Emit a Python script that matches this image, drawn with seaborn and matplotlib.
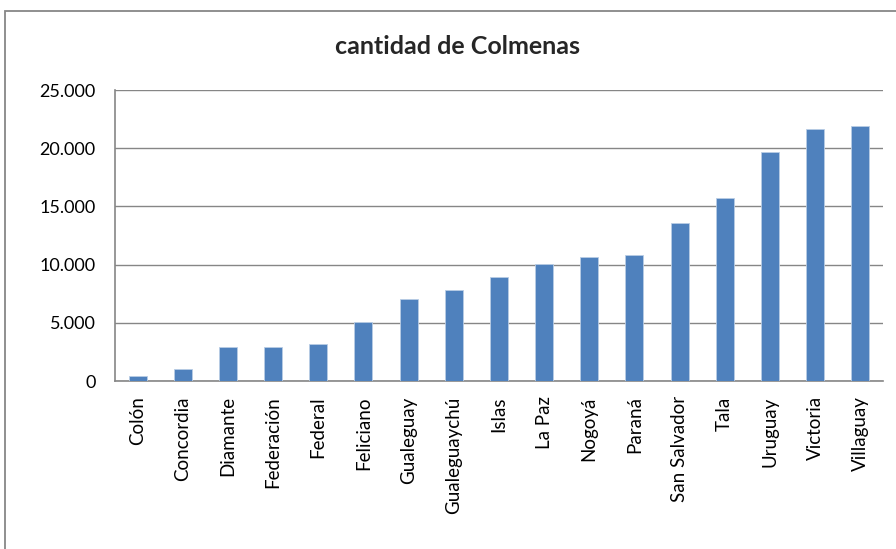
import matplotlib
matplotlib.use("Agg")
import matplotlib.pyplot as plt
import matplotlib.ticker as mticker
from matplotlib.patches import Rectangle
import seaborn as sns
import pandas as pd

departamentos = ["Colón", "Concordia", "Diamante", "Federación", "Federal", "Feliciano",
                 "Gualeguay", "Gualeguaychú", "Islas", "La Paz", "Nogoyá", "Paraná",
                 "San Salvador", "Tala", "Uruguay", "Victoria", "Villaguay"]
colmenas = [430, 1060, 2890, 2900, 3140, 5060, 7060, 7800, 8950, 10080, 10680, 10830,
            13540, 15740, 19660, 21630, 21940]
y_ticks = [0, 5000, 10000, 15000, 20000, 25000]

df = pd.DataFrame({"departamento": departamentos, "colmenas": colmenas})

sns.set_style("white")
plt.rcParams["font.family"] = ["Lato", "DejaVu Sans"]

fig = plt.figure(figsize=(8.96, 5.49), dpi=100)
ax = fig.add_axes([0.1283, 0.306, 0.857, 0.530])

sns.barplot(data=df, x="departamento", y="colmenas", color="#4F81BD", saturation=1,
            width=0.4, edgecolor="#B9CDE5", linewidth=0.6, ax=ax, zorder=3)

ax.set_ylim(0, 25000)
ax.set_xlim(-0.5, len(departamentos) - 0.5)
ax.set_yticks(y_ticks)
ax.yaxis.set_major_formatter(mticker.FuncFormatter(lambda v, p: f"{int(v):,}".replace(",", ".")))
ax.grid(axis="y", color="#868686", linewidth=1.0, zorder=0)
ax.set_axisbelow(True)

for side in ["top", "right"]:
    ax.spines[side].set_visible(False)
for side in ["left", "bottom"]:
    ax.spines[side].set_color("#868686")
    ax.spines[side].set_linewidth(1.2)

ax.set_xlabel("")
ax.set_ylabel("")
ax.set_xticks(range(len(departamentos)))
ax.set_xticklabels(departamentos, rotation=90, fontsize=13.5, color="black")
ax.tick_params(axis="x", length=0, pad=11)
ax.set_xticks([i + 0.5 for i in range(-1, len(departamentos))], minor=True)
ax.tick_params(axis="x", which="minor", length=6, color="#868686", width=1.2, direction="out")
ax.tick_params(axis="y", length=6, color="#868686", width=1.2, direction="out",
               labelsize=13, labelcolor="black", pad=8)

fig.text(0.511, 0.915, "cantidad de Colmenas", ha="center", va="center",
         fontsize=18, fontweight="bold")

border = Rectangle((5 / 896, -0.1), 1.2, 1 - 11 / 549 + 0.1, transform=fig.transFigure,
                   fill=False, edgecolor="#878787", linewidth=1.3, clip_on=False)
fig.patches.append(border)

fig.savefig("out.png", dpi=100, facecolor="white")
